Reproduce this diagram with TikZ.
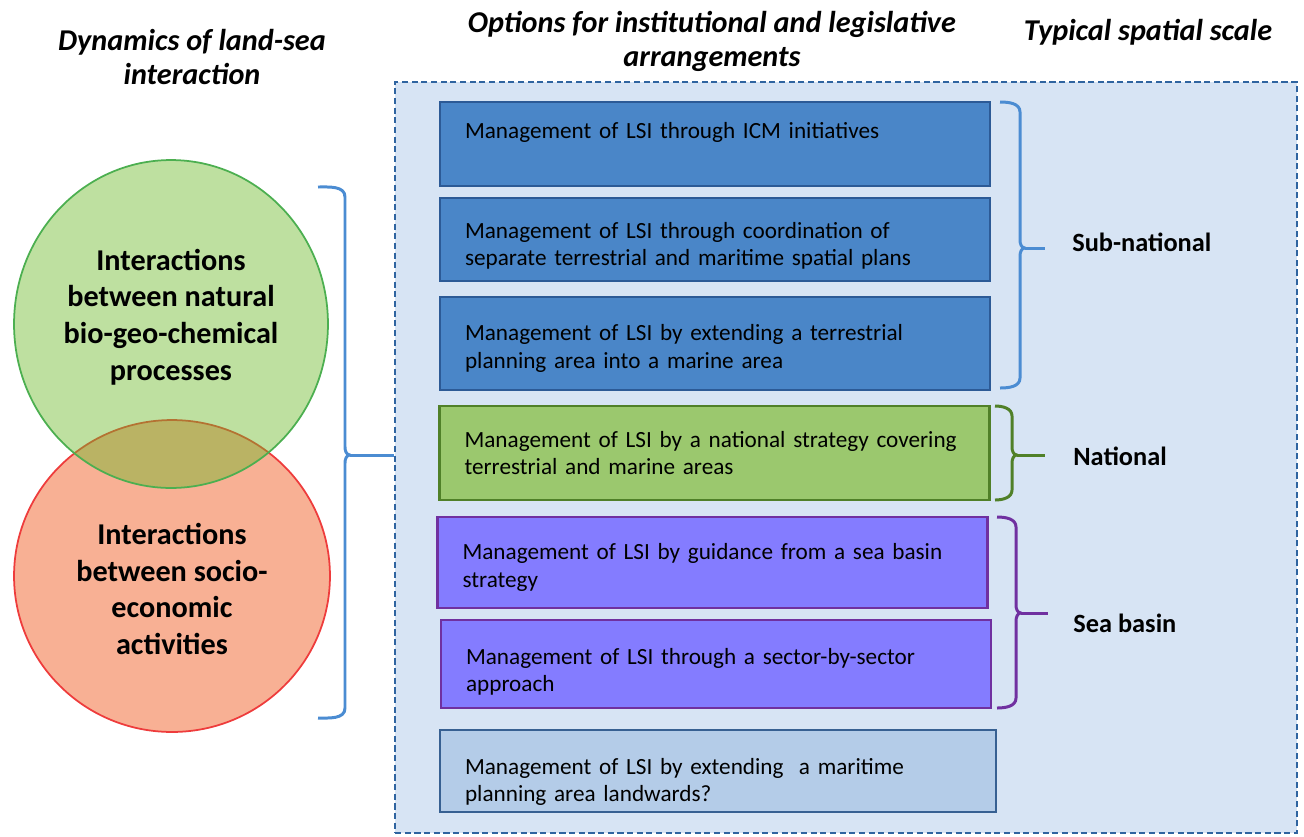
\documentclass[tikz,border=0pt]{standalone}
\usepackage{fontspec}
\setmainfont{Carlito}
\usetikzlibrary{positioning,shapes.geometric}

\definecolor{panelfill}{RGB}{215,228,244}
\definecolor{paneledge}{RGB}{47,100,160}
\definecolor{blfill}{RGB}{74,134,200}
\definecolor{bledge}{RGB}{44,90,150}
\definecolor{grfill}{RGB}{155,200,110}
\definecolor{gredge}{RGB}{80,128,40}
\definecolor{pufill}{RGB}{132,124,255}
\definecolor{puedge}{RGB}{112,48,160}
\definecolor{ltfill}{RGB}{180,204,232}
\definecolor{ltedge}{RGB}{55,96,146}
\definecolor{blbrace}{RGB}{75,140,210}
\definecolor{natfill}{RGB}{107,185,39}
\definecolor{natedge}{RGB}{76,175,80}
\definecolor{socfill}{RGB}{248,176,148}
\definecolor{socedge}{RGB}{238,60,60}

\begin{document}
\begin{tikzpicture}[x=0.02cm,y=-0.02cm,
	every node/.style={font=\fontsize{13.2}{15.6}\selectfont},
	heading/.style={font=\fontsize{17.2}{19.4}\selectfont\bfseries\itshape,align=center},
	circtext/.style={font=\fontsize{17.2}{20.8}\selectfont\bfseries,align=center},
	scalelabel/.style={font=\fontsize{15}{18}\selectfont\bfseries,anchor=west,inner sep=0},
	textdrop/.style={execute at begin node={\rule{0pt}{#1}}},
	option/.style={draw,line width=1.6pt,align=left,text width=10cm,
		inner xsep=0.5cm,minimum width=11cm},
	blueopt/.style={option,fill=blfill,draw=bledge},
	greenopt/.style={option,fill=grfill,draw=gredge},
	purpleopt/.style={option,fill=pufill,draw=puedge},
	lightopt/.style={option,fill=ltfill,draw=ltedge}]
\useasboundingbox (0,0) rectangle (1304,836);
% headings
\node[heading] (dyn) at (192,57) {Dynamics of land-sea\\interaction};
\node[heading] (opt) at (712,41) {Options for institutional and legislative\\arrangements};
\node[heading] (typ) at (1148,32) {Typical spatial scale};
% dashed panel
\node[draw=paneledge,fill=panelfill,line width=1.1pt,dash pattern=on 3.5pt off 2pt,
	minimum width=18.04cm,minimum height=15.02cm] (panel) at (846,457.5) {};
% circles
\node[ellipse,draw=socedge,fill=socfill,line width=1pt,
	minimum width=6.32cm,minimum height=6.24cm] (soc) at (172,576) {};
\node[ellipse,draw=natedge,fill=natfill,fill opacity=0.44,draw opacity=1,line width=1pt,
	minimum width=6.28cm,minimum height=6.56cm] (nat) at (171,324) {};
\node[circtext] (nattext) at (171,317) {Interactions\\between natural\\bio-geo-chemical\\processes};
\node[circtext] (soctext) at (172,589) {Interactions\\between socio-\\economic\\activities};
% options
\node[blueopt,minimum height=1.68cm] (icm) at (715,144) {Management of LSI through ICM initiatives\\~};
\node[blueopt,minimum height=1.66cm,textdrop=16.6pt] (coord) at (715,239.5) {Management of LSI through coordination of\\separate terrestrial and maritime spatial plans};
\node[blueopt,minimum height=1.86cm,textdrop=14.9pt] (terr) at (715,343.5) {Management of LSI by extending a terrestrial\\planning area into a marine area};
\node[greenopt,minimum height=1.88cm] (strat) at (714.5,453) {Management of LSI by a national strategy covering\\terrestrial and marine areas};
\node[purpleopt,minimum height=1.82cm,textdrop=14.9pt] (guide) at (712.5,562.5) {Management of LSI by guidance from a sea basin\\strategy};
\node[purpleopt,minimum height=1.76cm,textdrop=18.3pt] (sector) at (716,664) {Management of LSI through a sector-by-sector\\approach};
\node[lightopt,minimum height=1.64cm,minimum width=11.12cm,text width=10.12cm,textdrop=21.7pt] (landw) at (718,771) {Management of LSI by extending\ \ a maritime\\planning area landwards?};
% scales
\node[scalelabel] (sub) at (1072,242) {Sub-national};
\node[scalelabel] (natl) at (1073,456) {National};
\node[scalelabel] (sea) at (1073,623) {Sea basin};
% braces
\foreach \xa/\xb/\ya/\ym/\yb/\col/\nm in {318/345/187/455/718/blbrace/ltip,
	1000/1020/102/248/388/blbrace/stip,995/1012/406/455/500/gredge/ntip,
	997/1016/517/613/708/puedge/ptip}{
	\draw[\col,line width=1.7pt,line join=round]
		(\xa,\ya) to[out=0,in=90] (\xb,\ya+10) -- (\xb,\ym-8)
		to[out=-90,in=180] (\xb+5,\ym) to[out=180,in=90] (\xb,\ym+8)
		-- (\xb,\yb-10) to[out=-90,in=0] (\xa,\yb);
	\coordinate (\nm) at (\xb+5,\ym);
}
\draw[blbrace,line width=1.7pt] (ltip) -- (ltip -| panel.west);
\draw[blbrace,line width=1.7pt,shorten >=0.54cm] (stip) -- (stip -| sub.west);
\draw[gredge,line width=1.7pt,shorten >=0.56cm] (ntip) -- (ntip -| natl.west);
\draw[puedge,line width=1.7pt,shorten >=0.5cm] (ptip) -- (ptip -| sea.west);
\end{tikzpicture}
\end{document}
